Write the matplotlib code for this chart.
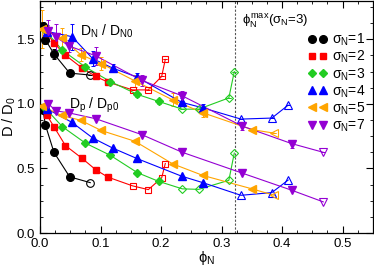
import matplotlib
matplotlib.use("Agg")
import matplotlib.pyplot as plt
from matplotlib.ticker import MultipleLocator, AutoMinorLocator

plt.rcParams['font.family'] = ['Liberation Sans', 'DejaVu Sans']
plt.rcParams['mathtext.fontset'] = 'custom'
plt.rcParams['mathtext.rm'] = 'Liberation Sans'
plt.rcParams['mathtext.it'] = 'Liberation Sans'
plt.rcParams['mathtext.sf'] = 'Liberation Sans'

# data: phi_N, D_N/D_N0 (upper, shifted), D_p/D_p0 (lower), first open index
phi_1 = [0.005, 0.009, 0.023, 0.049, 0.083]
dn_1 = [1.60, 1.496, 1.387, 1.238, 1.223]
dp_1 = [0.95, 0.835, 0.625, 0.435, 0.39]
err_1 = [0.03, 0.03, 0.04, 0.02, 0.0]

phi_2 = [0.011, 0.023, 0.042, 0.069, 0.092, 0.112, 0.153, 0.179, 0.201, 0.207]
dn_2 = [1.55, 1.472, 1.377, 1.279, 1.212, 1.169, 1.108, 1.108, 1.212, 1.344]
dp_2 = [0.915, 0.823, 0.677, 0.58, 0.49, 0.433, 0.365, 0.336, 0.427, 0.538]
err_2 = [0.05, 0.02, 0.02, 0.02, 0.02, 0.02, 0, 0, 0, 0]

phi_3 = [0.008, 0.037, 0.075, 0.116, 0.161, 0.196, 0.235, 0.262, 0.312, 0.321]
dn_3 = [1.57, 1.415, 1.285, 1.173, 1.073, 1.019, 0.959, 0.959, 1.046, 1.25]
dp_3 = [0.97, 0.823, 0.696, 0.602, 0.467, 0.40, 0.342, 0.338, 0.408, 0.619]
err_3 = [0.04, 0.02, 0.02, 0.02, 0.02, 0.02, 0, 0, 0, 0]

phi_4 = [0.012, 0.053, 0.087, 0.12, 0.16, 0.234, 0.269, 0.332, 0.383, 0.41]
dn_4 = [1.56, 1.52, 1.35, 1.277, 1.208, 1.012, 0.969, 0.882, 0.89, 0.99]
dp_4 = [0.96, 0.856, 0.736, 0.658, 0.577, 0.44, 0.39, 0.292, 0.313, 0.41]
err_4 = [0.05, 0.1, 0.06, 0.03, 0.03, 0.03, 0.03, 0, 0, 0]

phi_5 = [0.004, 0.036, 0.067, 0.101, 0.157, 0.219, 0.269, 0.351, 0.387]
dn_5 = [1.58, 1.508, 1.382, 1.312, 1.177, 1.031, 0.931, 0.80, 0.773]
dp_5 = [0.98, 0.91, 0.873, 0.794, 0.71, 0.536, 0.446, 0.341, 0.292]
err_5 = [0.15, 0.08, 0.05, 0.05, 0.05, 0.05, 0.03, 0, 0]

phi_7 = [0.014, 0.026, 0.048, 0.092, 0.168, 0.235, 0.334, 0.416, 0.468]
dn_7 = [1.567, 1.519, 1.448, 1.372, 1.182, 1.062, 0.828, 0.692, 0.625]
dp_7 = [1.0, 0.946, 0.93, 0.885, 0.762, 0.625, 0.464, 0.331, 0.241]
err_7 = [0.08, 0.1, 0.05, 0.07, 0.04, 0.04, 0.03, 0.03, 0]

series = [
    ("1", phi_1, dn_1, dp_1, err_1, 4, "black", "o", 5.5),
    ("2", phi_2, dn_2, dp_2, err_2, 6, "#ff0000", "s", 5),
    ("3", phi_3, dn_3, dp_3, err_3, 6, "#22cc22", "D", 4.3),
    ("4", phi_4, dn_4, dp_4, err_4, 7, "#0000ff", "^", 5.5),
    ("5", phi_5, dn_5, dp_5, err_5, 8, "#ffa500", "<", 5.5),
    ("7", phi_7, dn_7, dp_7, err_7, 8, "#9400d3", "v", 5.5),
]
phi_max = 0.322

fig = plt.figure(figsize=(3.74, 2.66), dpi=100)
ax = fig.add_axes([0.107, 0.124, 0.890, 0.874])

for name, phi, dn, dp, err, k, c, m, ms in series:
    # upper curve with error bars
    ax.errorbar(phi, dn, yerr=err, color=c, lw=0.8, elinewidth=0.7, capsize=1.5,
                capthick=0.7, marker=None, zorder=2)
    ax.plot(phi[:k], dn[:k], ls='none', marker=m, ms=ms, color=c, zorder=3,
            label=r'$\sigma_{\rm N}$=' + name)
    ax.plot(phi[k:], dn[k:], ls='none', marker=m, ms=ms, mfc='none', mec=c,
            mew=0.8, zorder=3)
    # lower curve
    ax.plot(phi, dp, color=c, lw=0.8, zorder=2)
    ax.plot(phi[:k], dp[:k], ls='none', marker=m, ms=ms, color=c, zorder=3)
    ax.plot(phi[k:], dp[k:], ls='none', marker=m, ms=ms, mfc='none', mec=c,
            mew=0.8, zorder=3)

ax.axvline(phi_max, color='#555555', ls='--', lw=0.8, dashes=(2, 1.5), zorder=1)

ax.set_xlim(0, 0.55)
ax.set_ylim(0, 1.8)
ax.xaxis.set_major_locator(MultipleLocator(0.1))
ax.xaxis.set_minor_locator(AutoMinorLocator(4))
ax.yaxis.set_major_locator(MultipleLocator(0.5))
ax.yaxis.set_minor_locator(AutoMinorLocator(4))
ax.set_yticks([0.0, 0.5, 1.0, 1.5])
ax.set_yticklabels(["0.0", "0.5", "1.0", "1.5"])
ax.tick_params(which='both', direction='in', top=True, right=True, labelsize=9.5)
ax.tick_params(which='major', length=5, width=0.8)
ax.tick_params(which='minor', length=2.5, width=0.6)
for s in ax.spines.values():
    s.set_linewidth(0.9)

ax.set_xlabel(r'$\phi_{\rm N}$', fontsize=10.5)
ax.xaxis.set_label_coords(0.5, -0.07)
ax.set_ylabel(r'D / D$_0$', fontsize=10.5)
ax.yaxis.set_label_coords(-0.065, 0.5)

ax.text(0.11, 1.56, r'D$_{\rm N}$ / D$_{\rm N0}$', fontsize=10, ha='center', va='center')
ax.text(0.09, 0.985, r'D$_{\rm p}$ / D$_{\rm p0}$', fontsize=10, ha='center', va='center')
ax.text(0.389, 1.64, r'$\phi_{\rm N}^{\rm max}$($\sigma_{\rm N}$=3)', fontsize=9.5,
        ha='center', va='center')

ax.legend(loc='upper left', bbox_to_anchor=(0.805, 0.865), frameon=False,
          numpoints=2, fontsize=10, handlelength=1.4, handletextpad=0.3,
          labelspacing=0.05, borderaxespad=0, borderpad=0)

fig.savefig("out.png", dpi=100)
